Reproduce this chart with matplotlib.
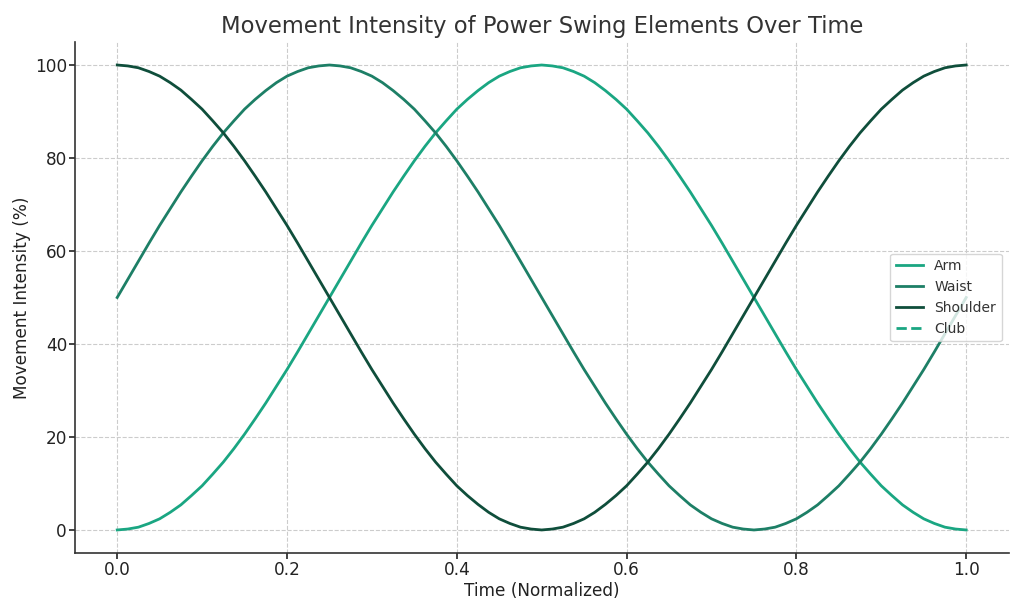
import matplotlib.pyplot as plt

# values, t step 0.0125
time = [i * 0.0125 for i in range(81)]
arm = [0.0, 0.2, 0.6, 1.4, 2.4, 3.8, 5.4, 7.4, 9.5, 12.0, 14.6, 17.5, 20.6, 23.9,
       27.3, 30.9, 34.5, 38.3, 42.2, 46.1, 50.0, 53.9, 57.8, 61.7, 65.5, 69.1,
       72.7, 76.1, 79.4, 82.5, 85.4, 88.0, 90.5, 92.6, 94.5, 96.2, 97.6, 98.6,
       99.4, 99.8, 100.0,
       99.8, 99.4, 98.6, 97.6, 96.2, 94.5, 92.6, 90.5, 88.0, 85.4, 82.5, 79.4,
       76.1, 72.7, 69.1, 65.5, 61.7, 57.8, 53.9, 50.0, 46.1, 42.2, 38.3, 34.5,
       30.9, 27.3, 23.9, 20.6, 17.5, 14.6, 12.0, 9.5, 7.4, 5.4, 3.8, 2.4, 1.4,
       0.6, 0.2, 0.0]
waist = [50.0, 53.9, 57.8, 61.7, 65.5, 69.1, 72.7, 76.1, 79.4, 82.5, 85.4, 88.0,
         90.5, 92.6, 94.5, 96.2, 97.6, 98.6, 99.4, 99.8, 100.0,
         99.8, 99.4, 98.6, 97.6, 96.2, 94.5, 92.6, 90.5, 88.0, 85.4, 82.5, 79.4,
         76.1, 72.7, 69.1, 65.5, 61.7, 57.8, 53.9, 50.0,
         46.1, 42.2, 38.3, 34.5, 30.9, 27.3, 23.9, 20.6, 17.5, 14.6, 12.0, 9.5,
         7.4, 5.4, 3.8, 2.4, 1.4, 0.6, 0.2, 0.0,
         0.2, 0.6, 1.4, 2.4, 3.8, 5.4, 7.4, 9.5, 12.0, 14.6, 17.5, 20.6, 23.9,
         27.3, 30.9, 34.5, 38.3, 42.2, 46.1, 50.0]
shoulder = [100.0, 99.8, 99.4, 98.6, 97.6, 96.2, 94.6, 92.6, 90.5, 88.0, 85.4,
            82.5, 79.4, 76.1, 72.7, 69.1, 65.5, 61.7, 57.8, 53.9, 50.0, 46.1,
            42.2, 38.3, 34.5, 30.9, 27.3, 23.9, 20.6, 17.5, 14.6, 12.0, 9.5,
            7.4, 5.5, 3.8, 2.4, 1.4, 0.6, 0.2, 0.0,
            0.2, 0.6, 1.4, 2.4, 3.8, 5.5, 7.4, 9.5, 12.0, 14.6, 17.5, 20.6,
            23.9, 27.3, 30.9, 34.5, 38.3, 42.2, 46.1, 50.0, 53.9, 57.8, 61.7,
            65.5, 69.1, 72.7, 76.1, 79.4, 82.5, 85.4, 88.0, 90.5, 92.6, 94.6,
            96.2, 97.6, 98.6, 99.4, 99.8, 100.0]
# club is only in the legend, no visible curve
club_t = []
club = []

fig = plt.figure(figsize=(10.24, 6.14), dpi=100)
ax = fig.add_axes([0.073, 0.099, 0.912, 0.833])

ax.plot(time, arm, color='#1aa682', lw=2, label='Arm')
ax.plot(time, waist, color='#1d7f66', lw=2, label='Waist')
ax.plot(time, shoulder, color='#0f4e3b', lw=2, label='Shoulder')
ax.plot(club_t, club, color='#1aa682', lw=2, ls='--', label='Club')

ax.set_xlim(-0.05, 1.05)
ax.set_ylim(-5, 105)
ax.set_title('Movement Intensity of Power Swing Elements Over Time',
             fontsize=16.3, color='#333333', pad=6)
ax.set_xlabel('Time (Normalized)', fontsize=12.2, color='#222222', labelpad=2)
ax.set_ylabel('Movement Intensity (%)', fontsize=12.2, color='#222222', labelpad=3)
ax.tick_params(labelsize=12.2, colors='#222222', length=4, width=1.2, pad=1.5)
ax.grid(True, ls='--', color='#cccccc', lw=0.8)
ax.set_axisbelow(True)
for s in ['top', 'right']:
    ax.spines[s].set_visible(False)
for s in ['left', 'bottom']:
    ax.spines[s].set_color('#333333')
    ax.spines[s].set_linewidth(1.2)
leg = ax.legend(loc='center right', fontsize=10, frameon=True)
for t in leg.get_texts():
    t.set_color('#333333')

plt.savefig('out.png', dpi=100)
